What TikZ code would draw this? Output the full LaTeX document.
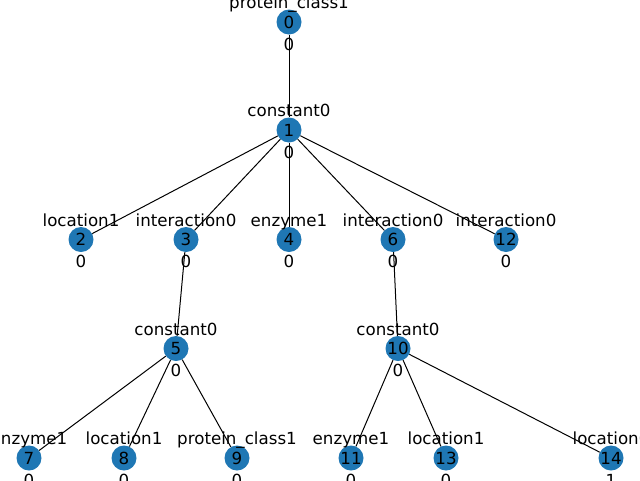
\documentclass[tikz,border=0pt]{standalone}
\usepackage{fontspec}
\setmainfont{DejaVu Sans}
\begin{document}
\begin{tikzpicture}[x=1pt,y=-1pt,
  vtx/.style={circle,fill={rgb,255:red,31;green,119;blue,180},minimum size=25pt,inner sep=0pt,font=\fontsize{16.67}{20}\selectfont},
  lab/.style={anchor=base,inner sep=0pt,font=\fontsize{16.67}{20}\selectfont},
  edge/.style={draw=black,line width=1pt}]
\useasboundingbox (0,0) rectangle (640,480);
% nodes
\foreach \n/\x/\y in {0/289/22,1/289/130,2/81/239.5,3/186/239.5,4/289/239.5,6/393/239.5,12/506/239.5,5/176/348.5,10/398/348.5,7/29/458,8/124/458,9/237/458,11/351/458,13/446/458,14/611/458}{
  \node[vtx] (v\n) at (\x,\y) {\n};
}
% edges
\foreach \a/\b in {0/1,1/2,1/3,1/4,1/6,1/12,3/5,6/10,5/7,5/8,5/9,10/11,10/13,10/14}{
  \draw[edge] (v\a) -- (v\b);
}
% labels
\foreach \n/\t/\s in {0/protein\_class1/0,1/constant0/0,2/location1/0,3/interaction0/0,4/enzyme1/0,6/interaction0/0,12/interaction0/0,5/constant0/0,10/constant0/0,7/enzyme1/0,8/location1/0,9/protein\_class1/0,11/enzyme1/0,13/location1/0,14/location0/1}{
  \node[lab] (t\n) at ([yshift=13.5pt]v\n.center) {\t};
  \node[lab] (b\n) at ([yshift=-28.3pt]v\n.center) {\s};
}
\end{tikzpicture}
\end{document}
